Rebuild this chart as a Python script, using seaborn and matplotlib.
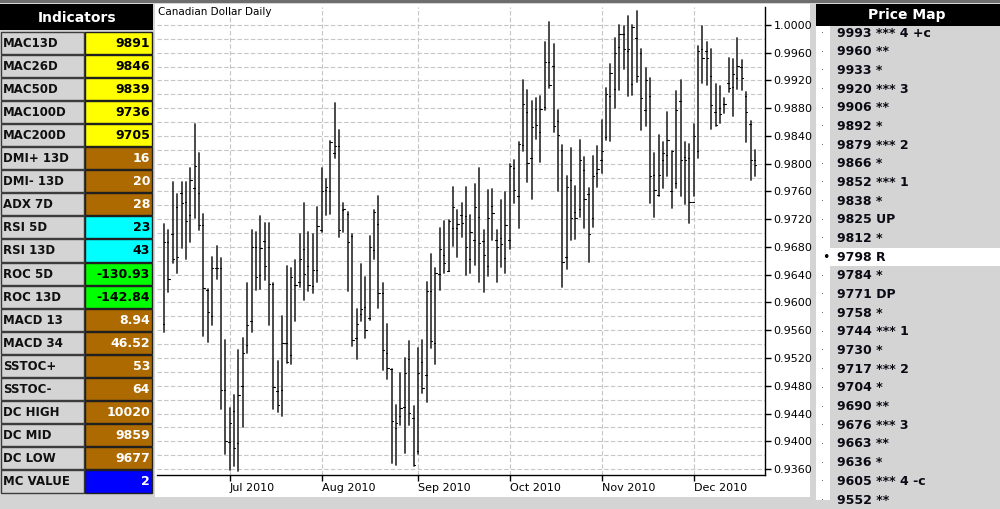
import numpy as np
import pandas as pd
import matplotlib
matplotlib.use('Agg')
import matplotlib.pyplot as plt
from matplotlib.patches import Rectangle
import seaborn as sns

# --- daily bars, price x 10000 ---
highs = [9713, 9705, 9773, 9757, 9773, 9773, 9794, 9857, 9815, 9728,
         9619, 9666, 9682, 9664, 9546, 9448, 9466, 9531, 9549, 9628,
         9705, 9701, 9724, 9715, 9714, 9628, 9515, 9580, 9653, 9649,
         9661, 9699, 9743, 9702, 9699, 9737, 9794, 9778, 9833, 9888,
         9849, 9743, 9730, 9699, 9590, 9656, 9637, 9696, 9733, 9753,
         9628, 9569, 9504, 9453, 9499, 9520, 9545, 9451, 9534, 9546,
         9630, 9670, 9650, 9707, 9718, 9719, 9767, 9733, 9744, 9767,
         9726, 9771, 9794, 9705, 9762, 9763, 9705, 9747, 9759, 9800,
         9806, 9831, 9921, 9906, 9890, 9894, 9898, 9975, 10004, 9973,
         9878, 9827, 9783, 9822, 9768, 9834, 9810, 9765, 9811, 9825,
         9863, 9909, 9944, 9981, 10000, 9999, 10013, 10000, 10020, 9966,
         9938, 9923, 9815, 9842, 9831, 9874, 9819, 9905, 9921, 9832,
         9829, 9857, 9970, 9998, 9976, 9966, 9915, 9912, 9894, 9952,
         9951, 9981, 9950, 9904, 9861, 9820]
lows = [9557, 9615, 9657, 9643, 9678, 9663, 9687, 9722, 9704, 9552,
        9543, 9568, 9634, 9447, 9382, 9358, 9365, 9357, 9420, 9527,
        9557, 9618, 9619, 9633, 9568, 9447, 9442, 9436, 9513, 9511,
        9573, 9623, 9604, 9616, 9614, 9629, 9701, 9726, 9728, 9808,
        9695, 9701, 9617, 9538, 9519, 9573, 9549, 9575, 9662, 9592,
        9503, 9490, 9369, 9366, 9424, 9383, 9424, 9364, 9381, 9470,
        9456, 9534, 9512, 9618, 9643, 9645, 9681, 9666, 9695, 9640,
        9643, 9654, 9630, 9615, 9638, 9690, 9630, 9651, 9643, 9677,
        9743, 9707, 9818, 9774, 9749, 9835, 9802, 9878, 9909, 9846,
        9761, 9623, 9648, 9690, 9691, 9723, 9707, 9658, 9709, 9767,
        9787, 9834, 9833, 9881, 9906, 9936, 9897, 9899, 9918, 9848,
        9854, 9744, 9723, 9754, 9765, 9782, 9736, 9765, 9753, 9742,
        9715, 9753, 9808, 9917, 9914, 9850, 9854, 9859, 9873, 9904,
        9869, 9907, 9906, 9832, 9776, 9783]
opens = [9569, 9687, 9699, 9737, 9758, 9745, 9726, 9765, 9758, 9712,
         9618, 9580, 9649, 9649, 9474, 9399, 9443, 9398, 9479, 9539,
         9573, 9680, 9640, 9688, 9680, 9627, 9473, 9474, 9542, 9525,
         9625, 9629, 9677, 9652, 9624, 9647, 9705, 9762, 9760, 9816,
         9826, 9733, 9728, 9696, 9549, 9584, 9594, 9578, 9675, 9713,
         9613, 9527, 9504, 9419, 9436, 9450, 9519, 9434, 9386, 9514,
         9496, 9616, 9542, 9641, 9669, 9646, 9707, 9707, 9726, 9724,
         9662, 9690, 9723, 9688, 9652, 9739, 9690, 9693, 9664, 9690,
         9794, 9754, 9827, 9875, 9808, 9879, 9846, 9882, 9947, 9941,
         9861, 9820, 9666, 9776, 9731, 9735, 9791, 9757, 9722, 9787,
         9805, 9838, 9898, 9907, 9968, 9987, 9962, 9915, 9981, 9959,
         9878, 9898, 9784, 9755, 9805, 9813, 9760, 9772, 9890, 9810,
         9808, 9745, 9818, 9965, 9962, 9926, 9875, 9881, 9886, 9917,
         9910, 9923, 9939, 9897, 9857, 9806]
closes = [9687, 9634, 9662, 9665, 9744, 9718, 9776, 9797, 9711, 9621,
          9587, 9649, 9649, 9474, 9400, 9427, 9390, 9466, 9527, 9567,
          9680, 9637, 9678, 9652, 9627, 9478, 9453, 9542, 9514, 9637,
          9625, 9662, 9641, 9625, 9647, 9710, 9760, 9767, 9831, 9826,
          9705, 9735, 9687, 9546, 9569, 9590, 9560, 9680, 9730, 9613,
          9531, 9506, 9429, 9426, 9448, 9498, 9441, 9366, 9499, 9477,
          9617, 9544, 9643, 9677, 9657, 9717, 9737, 9713, 9714, 9680,
          9702, 9738, 9686, 9669, 9722, 9729, 9680, 9685, 9712, 9797,
          9762, 9829, 9886, 9801, 9853, 9856, 9879, 9947, 9914, 9854,
          9842, 9658, 9766, 9722, 9722, 9806, 9749, 9699, 9783, 9792,
          9818, 9900, 9931, 9959, 9987, 9966, 9966, 9997, 9926, 9894,
          9920, 9783, 9762, 9784, 9815, 9834, 9818, 9878, 9805, 9806,
          9745, 9840, 9962, 9952, 9953, 9885, 9856, 9872, 9886, 9909,
          9929, 9941, 9924, 9875, 9806, 9798]

# trading days (weekdays less US holidays)
holidays = ['2010-07-05', '2010-09-06', '2010-11-25']
dates = pd.bdate_range('2010-06-10', '2010-12-21')
dates = dates[~dates.isin(pd.to_datetime(holidays))]

# --- indicator panel ---
ind_labels = ['MAC13D', 'MAC26D', 'MAC50D', 'MAC100D', 'MAC200D', 'DMI+ 13D', 'DMI- 13D',
              'ADX 7D', 'RSI 5D', 'RSI 13D', 'ROC 5D', 'ROC 13D', 'MACD 13', 'MACD 34',
              'SSTOC+', 'SSTOC-', 'DC HIGH', 'DC MID', 'DC LOW', 'MC VALUE']
ind_values = ['9891', '9846', '9839', '9736', '9705', '16', '20', '28', '23', '43',
              '-130.93', '-142.84', '8.94', '46.52', '53', '64', '10020', '9859', '9677', '2']
ind_kind = ['ma'] * 5 + ['dm'] * 3 + ['rsi'] * 2 + ['roc'] * 2 + ['dm'] * 7 + ['mc']

# --- price map ---
map_levels = [9993, 9960, 9933, 9920, 9906, 9892, 9879, 9866, 9852, 9838, 9825, 9812, 9798,
              9784, 9771, 9758, 9744, 9730, 9717, 9704, 9690, 9676, 9663, 9636, 9605, 9552]
map_tags = ['*** 4 +c', '**', '*', '*** 3', '**', '*', '*** 2', '*', '*** 1', '*', 'UP', '*', 'R',
            '*', 'DP', '*', '*** 1', '*', '*** 2', '*', '**', '*** 3', '**', '*', '*** 4 -c', '**']
current_level = 9798

KIND_COLORS = {'ma': ('#ffff00', 'black'), 'dm': ('#ad6a00', 'white'), 'rsi': ('#00ffff', 'black'),
               'roc': ('#00ff00', 'black'), 'mc': ('#0000ff', 'white')}
PANEL_GRAY = '#d4d4d4'
BAR_C = '#3a3a3a'
GRID_C = '#c6c6c6'

sns.set_theme(style='white')
plt.rcParams['font.family'] = ['DejaVu Sans']

fig = plt.figure(figsize=(10, 5.09), dpi=100)
fig.patch.set_facecolor(PANEL_GRAY)

# background canvas in pixel coordinates
bg = fig.add_axes([0, 0, 1, 1])
bg.set_xlim(0, 1000)
bg.set_ylim(509, 0)
bg.axis('off')
bg.add_patch(Rectangle((0, 0), 1000, 3, color='#6e6e6e', lw=0))

# indicators
bg.add_patch(Rectangle((0, 4), 153, 26, color='black', lw=0))
bg.text(77, 17.5, 'Indicators', color='white', fontsize=10, fontweight='bold', ha='center', va='center')
row_h = 23.1
for i, (lab, val, kind) in enumerate(zip(ind_labels, ind_values, ind_kind)):
    y0 = 31.5 + i * row_h
    fc, tc = KIND_COLORS[kind]
    bg.add_patch(Rectangle((1, y0), 83, row_h - 1, facecolor=PANEL_GRAY, edgecolor='#3c3c3c', lw=1))
    bg.add_patch(Rectangle((85, y0), 67, row_h - 1, facecolor=fc, edgecolor='#202020', lw=1))
    bg.text(3, y0 + row_h / 2, lab, fontsize=8.5, fontweight='bold', color='#101010', ha='left', va='center')
    bg.text(150, y0 + row_h / 2, val, fontsize=9, fontweight='bold', color=tc, ha='right', va='center')

# chart panel
bg.add_patch(Rectangle((155, 4), 655, 493, color='white', lw=0))

# price map
bg.add_patch(Rectangle((816, 4), 184, 22, color='black', lw=0))
bg.text(907, 15, 'Price Map', color='white', fontsize=10, fontweight='bold', ha='center', va='center')
bg.add_patch(Rectangle((816, 26), 14, 474, color='white', lw=0))
pm_h = 18.68
for i, (lvl, tag) in enumerate(zip(map_levels, map_tags)):
    yc = 33 + i * pm_h
    if lvl == current_level:
        bg.add_patch(Rectangle((816, yc - pm_h / 2), 184, pm_h, color='white', lw=0))
        bg.text(826, yc, '\u2022', fontsize=9, color='black', ha='center', va='center')
    else:
        bg.text(822, yc, '\u00b7', fontsize=7, color='#555555', ha='center', va='center')
    bg.text(837, yc, f'{lvl} {tag}', fontsize=9, fontweight='bold', color='#0a0a14', ha='left', va='center')

# --- OHLC chart ---
ax = fig.add_axes([0.157, 0.0668, 0.608, 0.9195])
ax.patch.set_visible(False)

pos = np.arange(len(highs))
bars = pd.DataFrame({'pos': pos, 'date': dates, 'open': np.array(opens) / 1e4, 'high': np.array(highs) / 1e4,
                     'low': np.array(lows) / 1e4, 'close': np.array(closes) / 1e4})

hl = pd.DataFrame({'bar': np.r_[pos, pos], 'x': np.r_[pos, pos].astype(float),
                   'price': np.r_[bars['low'], bars['high']]})
ot = pd.DataFrame({'bar': np.r_[pos, pos], 'x': np.r_[pos - 0.3, pos],
                   'price': np.r_[bars['open'], bars['open']]})
ct = pd.DataFrame({'bar': np.r_[pos, pos], 'x': np.r_[pos, pos + 0.3],
                   'price': np.r_[bars['close'], bars['close']]})

sns.lineplot(data=hl, x='x', y='price', units='bar', estimator=None, sort=False,
             color=BAR_C, lw=1.3, legend=False, ax=ax)
for seg in (ot, ct):
    sns.lineplot(data=seg, x='x', y='price', units='bar', estimator=None, sort=False,
                 color='black', lw=0.8, legend=False, ax=ax)

ax.set_xlim(-1.6, 137.3)
ax.set_ylim(0.93514, 1.00259)
ax.set_xlabel('')
ax.set_ylabel('')

# month ticks at first trading day of each month
month_pos = [i for i in range(1, len(dates)) if dates[i].month != dates[i - 1].month]
month_lab = [dates[i].strftime('%b %Y') for i in month_pos]
ax.set_xticks(month_pos)
ax.set_xticklabels(month_lab)
for t in ax.get_xticklabels():
    t.set_ha('left')

yt = np.round(np.arange(0.936, 1.0005, 0.004), 4)
ax.set_yticks(yt)
ax.set_yticklabels([f'{v:.4f}' for v in yt])
ax.set_yticks(np.round(np.arange(0.936, 1.0005, 0.002), 4), minor=True)
ax.yaxis.tick_right()

ax.tick_params(axis='both', which='major', direction='out', length=4, width=1, color='black',
               labelsize=8, labelcolor='black', pad=2)
ax.tick_params(axis='y', which='minor', length=0)
ax.tick_params(axis='x', bottom=True)
ax.tick_params(axis='y', right=True, left=False)

ax.grid(axis='y', which='both', color=GRID_C, lw=0.8, ls=(0, (4, 2)))
ax.grid(axis='x', which='major', color=GRID_C, lw=0.8, ls=(0, (4, 2)))
ax.set_axisbelow(True)

for side in ['left', 'top']:
    ax.spines[side].set_visible(False)
for side in ['right', 'bottom']:
    ax.spines[side].set_visible(True)
    ax.spines[side].set_color('black')
    ax.spines[side].set_linewidth(1)

fig.text(0.158, 1 - 12 / 509, 'Canadian Dollar Daily', fontsize=7.5, color='black', ha='left', va='center')

fig.savefig('out.png', dpi=100)
